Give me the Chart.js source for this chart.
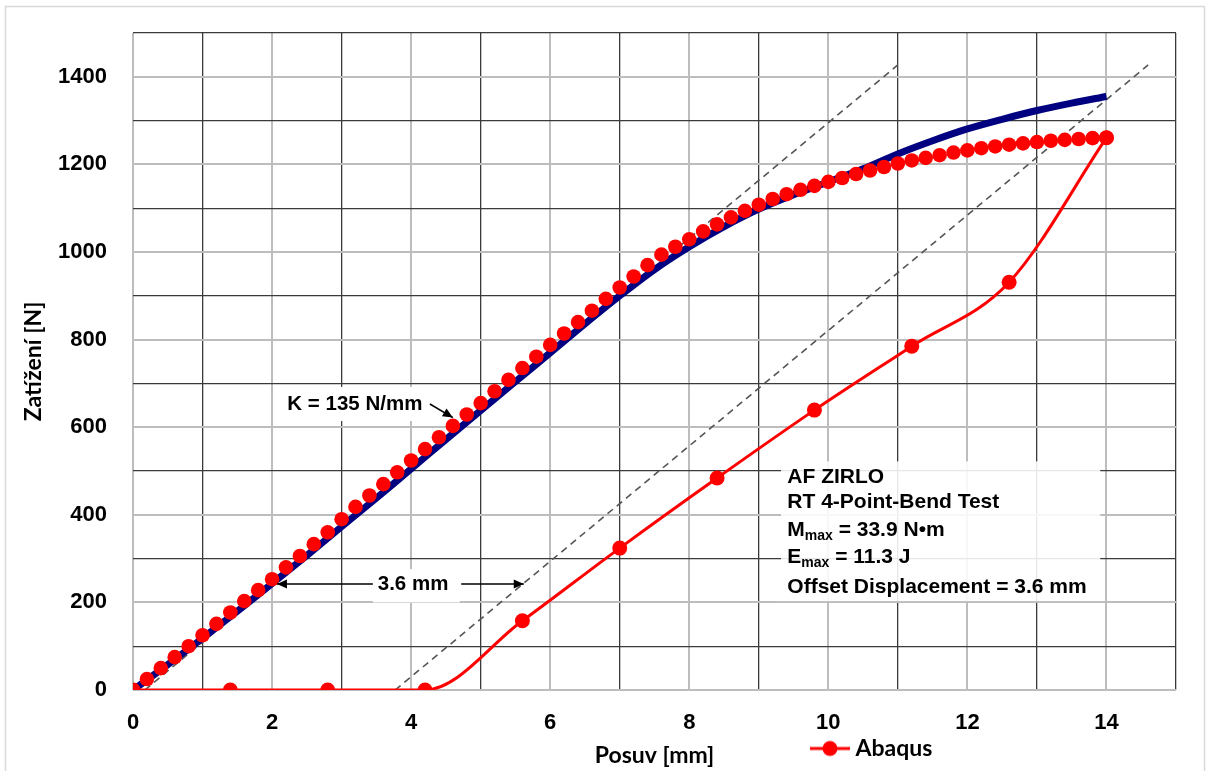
<!DOCTYPE html>
<html><head><meta charset="utf-8">
<script src="https://cdn.jsdelivr.net/npm/chart.js@4/dist/chart.umd.min.js"></script>
<style>html,body{margin:0;padding:0;background:#fff}canvas{display:block}</style>
</head><body>
<canvas id="c" width="1210" height="771"></canvas>
<script>
// ---- data ----
const loadX = [0,0.2,0.4,0.6,0.8,1.0,1.2,1.4,1.6,1.8,2.0,2.2,2.4,2.6,2.8,3.0,3.2,3.4,3.6,3.8,4.0,4.2,4.4,4.6,4.8,5.0,5.2,5.4,5.6,5.8,6.0,6.2,6.4,6.6,6.8,7.0,7.2,7.4,7.6,7.8,8.0,8.2,8.4,8.6,8.8,9.0,9.2,9.4,9.6,9.8,10.0,10.2,10.4,10.6,10.8,11.0,11.2,11.4,11.6,11.8,12.0,12.2,12.4,12.6,12.8,13.0,13.2,13.4,13.6,13.8,14.0];
const loadY = [0,25,50,75,100,125,151,177,203,228,253,280,306,333,360,390,418,444,470,497,524,550,577,603,629,655,682,708,735,761,788,814,840,866,893,919,944,970,994,1012,1029,1047,1063,1079,1094,1108,1121,1132,1142,1151,1160,1169,1178,1186,1194,1202,1209,1215,1221,1227,1232,1237,1241,1245,1248,1251,1254,1256,1258,1260,1261];
const expX = [0,0.5,1,1.5,2,2.5,3,3.5,4,4.5,5,5.5,6,6.5,7,7.5,8,8.5,9,9.5,10,10.5,11,11.5,12,12.5,13,13.5,14];
const expY = [0,58,118,180,243,307,373,438,505,572,638,704,770,836,900,960,1012,1058,1098,1131,1160,1190,1224,1254,1281,1303,1323,1340,1355];
const abaqusX = [0,1.4,2.8,4.2,5.6,7.0,8.4,9.8,11.2,12.6,14.0];
const abaqusY = [0,0,0,0,158,324,484,639,785,931,1261];
const stiffX = [0.17,11.0];
const stiffY = [0,1427];
const offsetX = [3.77,14.6];
const offsetY = [0,1427];
const xTickLabels = [0,2,4,6,8,10,12,14];
const yTickLabels = [0,200,400,600,800,1000,1200,1400];
const infoLines = ['AF ZIRLO','RT 4-Point-Bend Test',['M','max',' = 33.9 N\u2022m'],['E','max',' = 11.3 J'],'Offset Displacement = 3.6 mm'];

const pts = (xs, ys) => xs.map((v, i) => ({x: v, y: ys[i]}));

// ---- annotation placement (data units) ----
const ann = {
  kBox: [2.12, 692, 4.32, 614], kText: [2.22, 653], kArrow: [4.27, 653, 4.6, 622],
  dBox: [3.45, 276, 4.70, 200], dText: [3.52, 242], dArrowL: [3.45, 242, 2.07, 242], dArrowR: [4.72, 242, 5.62, 242],
  infoBox: [9.32, 522, 13.91, 203], infoX: 9.41, infoY: [486, 428, 365, 304, 235]
};

const RED = '#ff0000', NAVY = '#000080';
const legendIcon = (() => {
  const c = document.createElement('canvas'); c.width = 40; c.height = 18;
  const g = c.getContext('2d');
  g.strokeStyle = RED; g.lineWidth = 3; g.beginPath(); g.moveTo(0, 9); g.lineTo(40, 9); g.stroke();
  g.fillStyle = RED; g.beginPath(); g.arc(20, 9, 7.5, 0, Math.PI * 2); g.fill();
  return c;
})();

function arrow(ctx, x1, y1, x2, y2) {
  ctx.beginPath(); ctx.moveTo(x1, y1); ctx.lineTo(x2, y2); ctx.stroke();
  const a = Math.atan2(y2 - y1, x2 - x1), L = 10, W = 4.5;
  ctx.beginPath();
  ctx.moveTo(x2, y2);
  ctx.lineTo(x2 - L * Math.cos(a) + W * Math.sin(a), y2 - L * Math.sin(a) - W * Math.cos(a));
  ctx.lineTo(x2 - L * Math.cos(a) - W * Math.sin(a), y2 - L * Math.sin(a) + W * Math.cos(a));
  ctx.closePath(); ctx.fill();
}

const bgPlugin = {
  id: 'bg',
  beforeDraw(chart) {
    const ctx = chart.ctx;
    ctx.save();
    ctx.fillStyle = '#fff'; ctx.fillRect(0, 0, chart.width, chart.height);
    ctx.strokeStyle = '#d9d9d9'; ctx.lineWidth = 1.5;
    ctx.strokeRect(5.5, 6.5, chart.width - 11, chart.height + 20);
    ctx.restore();
  }
};

const annPlugin = {
  id: 'ann',
  afterDatasetsDraw(chart) {
    const {ctx, scales: {x, y}} = chart;
    const X = v => x.getPixelForValue(v), Y = v => y.getPixelForValue(v);
    const box = (b, fill) => { ctx.fillStyle = fill; ctx.fillRect(X(b[0]), Y(b[1]), X(b[2]) - X(b[0]), Y(b[3]) - Y(b[1])); };
    ctx.save();
    box(ann.kBox, '#ffffff');
    box(ann.dBox, '#ffffff');
    box(ann.infoBox, 'rgba(255,255,255,0.88)');
    ctx.fillStyle = '#000'; ctx.strokeStyle = '#000'; ctx.lineWidth = 1.5;
    ctx.textBaseline = 'middle'; ctx.textAlign = 'left';
    ctx.font = 'bold 20.5px "Liberation Sans", Arial, sans-serif';
    ctx.fillText('K = 135 N/mm', X(ann.kText[0]), Y(ann.kText[1]));
    arrow(ctx, X(ann.kArrow[0]), Y(ann.kArrow[1]), X(ann.kArrow[2]), Y(ann.kArrow[3]));
    ctx.fillText('3.6 mm', X(ann.dText[0]), Y(ann.dText[1]));
    arrow(ctx, X(ann.dArrowL[0]), Y(ann.dArrowL[1]), X(ann.dArrowL[2]), Y(ann.dArrowL[3]));
    arrow(ctx, X(ann.dArrowR[0]), Y(ann.dArrowR[1]), X(ann.dArrowR[2]), Y(ann.dArrowR[3]));
    const big = 'bold 21px "Liberation Sans", Arial, sans-serif', small = 'bold 14px "Liberation Sans", Arial, sans-serif';
    infoLines.forEach((ln, i) => {
      let px = X(ann.infoX); const py = Y(ann.infoY[i]);
      if (typeof ln === 'string') { ctx.font = big; ctx.fillText(ln, px, py); return; }
      ctx.font = big; ctx.fillText(ln[0], px, py); px += ctx.measureText(ln[0]).width;
      ctx.font = small; ctx.fillText(ln[1], px, py + 6); px += ctx.measureText(ln[1]).width;
      ctx.font = big; ctx.fillText(ln[2], px, py);
    });
    ctx.restore();
  }
};

const legendPos = {
  id: 'legendPos',
  afterLayout(chart) {
    const lg = chart.legend; if (!lg) return;
    const w = lg.width, h = 44;
    lg.left = 806; lg.right = 806 + w; lg.top = 727; lg.bottom = 727 + h; lg.height = h;
  }
};

const tickFont = {family: '"Liberation Sans", Arial, sans-serif', weight: 'bold', size: 22};
const titleFont = {family: 'Lato, "Liberation Sans", sans-serif', weight: 'bold', size: 23};

new Chart(document.getElementById('c'), {
  type: 'scatter',
  data: {
    datasets: [
      {label: 'Abaqus', data: pts(abaqusX, abaqusY), showLine: true, borderColor: RED, backgroundColor: RED,
       borderWidth: 3, pointRadius: 7.5, pointBorderWidth: 0, cubicInterpolationMode: 'monotone', order: 1},
      {label: 'Abaqus zatěžování', data: pts(loadX, loadY), showLine: false, backgroundColor: RED, borderColor: RED,
       pointRadius: 7.3, pointBorderWidth: 0, order: 2},
      {label: 'Experiment', data: pts(expX, expY), showLine: true, borderColor: NAVY, backgroundColor: NAVY,
       borderWidth: 7, pointRadius: 0, tension: 0.3, order: 3},
      {label: 'K', data: pts(stiffX, stiffY), showLine: true, borderColor: '#555', borderWidth: 1.6,
       borderDash: [7, 5], pointRadius: 0, order: 4},
      {label: 'Offset', data: pts(offsetX, offsetY), showLine: true, borderColor: '#555', borderWidth: 1.6,
       borderDash: [7, 5], pointRadius: 0, order: 4}
    ]
  },
  options: {
    responsive: false, animation: false, events: [],
    layout: {padding: {top: 33, right: 34, bottom: 0, left: 0}},
    scales: {
      x: {
        type: 'linear', min: 0, max: 15,
        ticks: {stepSize: 1, autoSkip: false, maxRotation: 0, padding: 20, color: '#000', font: tickFont,
                callback: v => xTickLabels.includes(v) ? String(v) : ''},
        grid: {drawTicks: false, color: c => (c.tick && c.tick.value % 2 === 0) ? '#bdbdbd' : '#3a3a3a',
               lineWidth: c => (c.tick && c.tick.value % 2 === 0) ? 2 : 1.3},
        border: {display: false},
        title: {display: true, text: 'Posuv [mm]', color: '#000', font: titleFont, padding: {top: 0, bottom: 2}},
        afterFit: s => { s.height = 81; s.paddingLeft = 0; s.paddingRight = 0; }
      },
      y: {
        type: 'linear', min: 0, max: 1500,
        ticks: {stepSize: 100, autoSkip: false, padding: 26, color: '#000', font: tickFont,
                callback: v => yTickLabels.includes(v) ? String(v) : ''},
        grid: {drawTicks: false, color: c => (c.tick && c.tick.value % 200 === 0) ? '#bdbdbd' : '#3a3a3a',
               lineWidth: c => (c.tick && c.tick.value % 200 === 0) ? 2 : 1.3},
        border: {display: false},
        title: {display: true, text: 'Zatížení [N]', color: '#000', font: titleFont, padding: {top: 20, bottom: 0}},
        afterFit: s => { s.width = 133; s.paddingTop = 0; s.paddingBottom = 0; }
      }
    },
    plugins: {
      tooltip: {enabled: false},
      legend: {
        position: 'chartArea', align: 'start',
        labels: {
          usePointStyle: true, pointStyleWidth: 28, color: '#000',
          font: {family: 'Lato, "Liberation Sans", sans-serif', weight: 'bold', size: 23},
          filter: item => item.text === 'Abaqus',
          generateLabels: chart => Chart.defaults.plugins.legend.labels.generateLabels(chart)
            .map(l => Object.assign(l, {pointStyle: legendIcon}))
        }
      }
    }
  },
  plugins: [bgPlugin, annPlugin, legendPos]
});
</script>
</body></html>
